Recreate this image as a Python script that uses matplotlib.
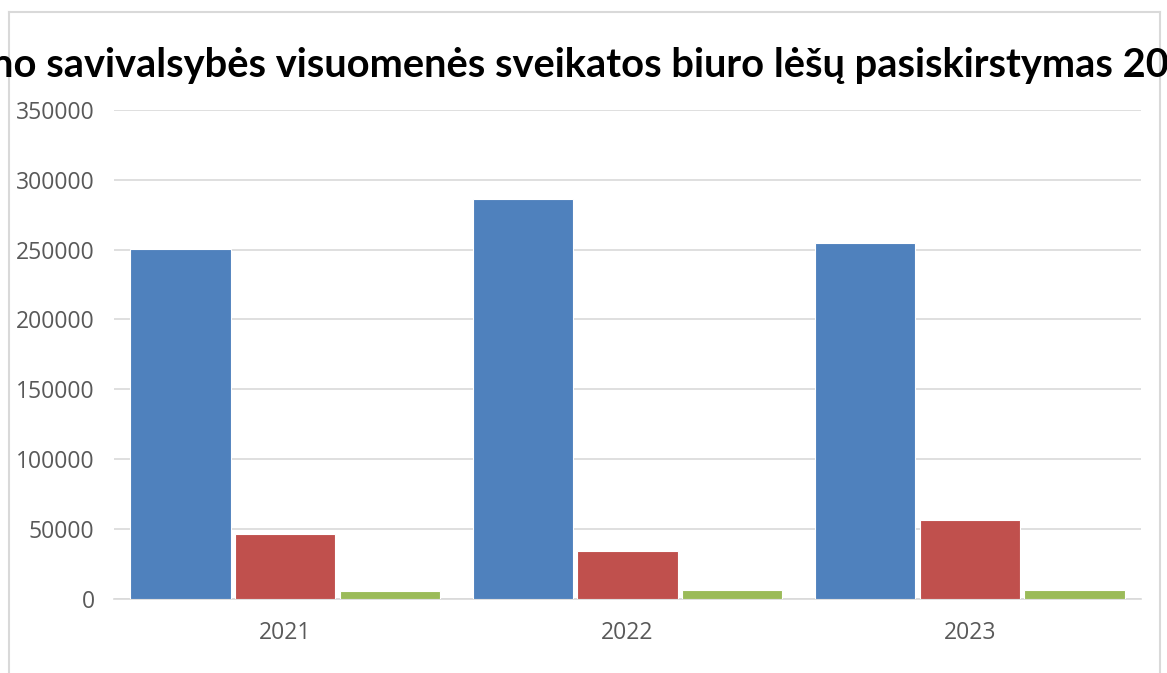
import matplotlib
matplotlib.use("Agg")
import numpy as np
import matplotlib.pyplot as plt
from matplotlib.lines import Line2D

# data
years = ["2021", "2022", "2023"]
series_a = [250600, 286500, 255000]   # blue
series_b = [46000, 34300, 56200]      # red
series_c = [5500, 6200, 6400]         # green
colors = ["#4F81BD", "#C0504D", "#9BBB59"]

title_text = "rajono savivalsybės visuomenės sveikatos biuro lėšų pasiskirstymas 2021–2023 m."
hidden_prefix = "rajo"
visible_part = "no savivalsybės visuomenės sveikatos biuro lėšų pasiskirstymas 20"

W, H = 1167, 673
fig = plt.figure(figsize=(W / 100, H / 100), dpi=100)
fig.patch.set_facecolor("white")

ax = fig.add_axes([114 / W, (H - 598.5) / H, 1027 / W, (598.5 - 110) / H])

x = np.arange(len(years))
bw = 0.293
off = 0.306
for i, vals in enumerate([series_a, series_b, series_c]):
    ax.bar(x + (i - 1) * off, vals, width=bw, color=colors[i],
           edgecolor="white", linewidth=0.8, zorder=3)

ax.set_xlim(-0.5, 2.5)
ax.set_ylim(0, 350000)
ax.set_yticks(np.arange(0, 350001, 50000))
ax.set_xticks(x)
ax.set_xticklabels(years)
ax.yaxis.grid(True, color="#D9D9D9", linewidth=1.2, zorder=0)
for s in ["top", "right", "left"]:
    ax.spines[s].set_visible(False)
ax.spines["bottom"].set_color("#D9D9D9")
ax.spines["bottom"].set_linewidth(1.2)
ax.tick_params(axis="both", length=0, colors="#595959", labelsize=16.5)
ax.tick_params(axis="y", pad=14)
ax.tick_params(axis="x", pad=16)
for lab in ax.get_xticklabels() + ax.get_yticklabels():
    lab.set_fontfamily("Open Sans")

# chart border (light gray frame, bottom edge off the picture)
bc = "#D9D9D9"
fig.add_artist(Line2D([9 / W, 9 / W], [0, 1 - 12 / H], transform=fig.transFigure, color=bc, lw=1.5))
fig.add_artist(Line2D([9 / W, 1160 / W], [1 - 12 / H, 1 - 12 / H], transform=fig.transFigure, color=bc, lw=1.5))
fig.add_artist(Line2D([1160 / W, 1160 / W], [0, 1 - 12 / H], transform=fig.transFigure, color=bc, lw=1.5))

# title: size it so the visible part spans the picture, clipped at both sides
renderer = fig.canvas.get_renderer()
probe = fig.text(0, 0, visible_part, fontsize=20, fontweight="bold", family="Lato")
wv = probe.get_window_extent(renderer).width
probe.remove()
fs = 20 * 1181 / wv
probe = fig.text(0, 0, hidden_prefix, fontsize=fs, fontweight="bold", family="Lato")
wp = probe.get_window_extent(renderer).width
probe.remove()
fig.text((-9 - wp) / W, 1 - 76 / H, title_text, fontsize=fs, fontweight="bold",
         family="Lato", color="black", ha="left", va="baseline")

fig.savefig("out.png", dpi=100)
